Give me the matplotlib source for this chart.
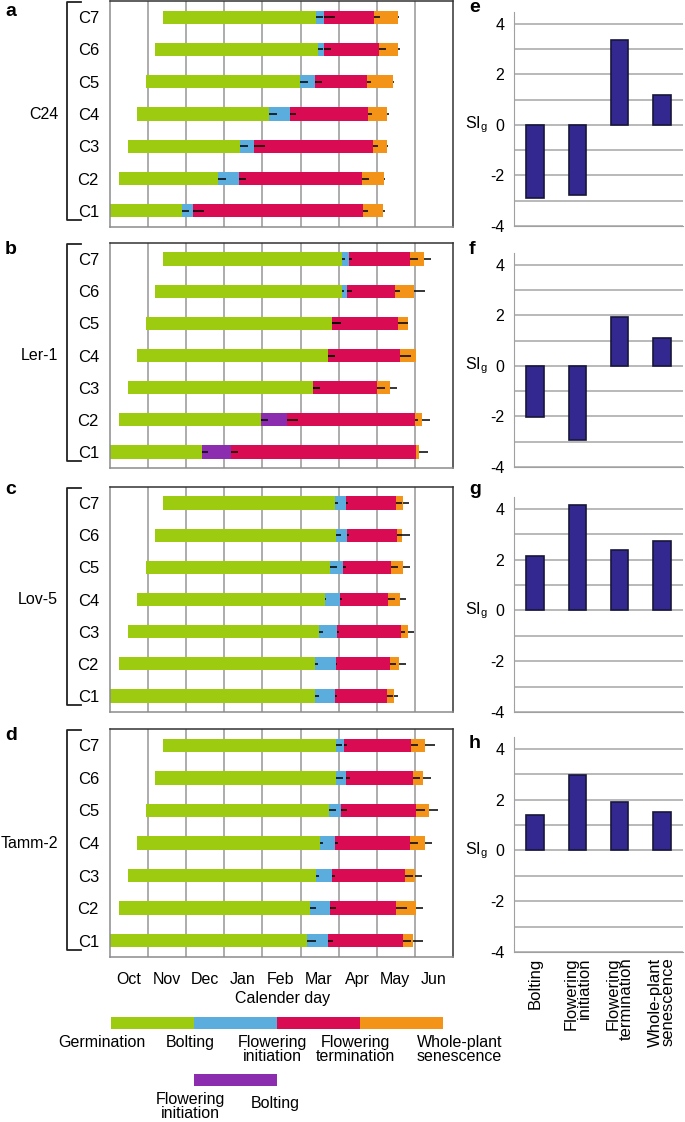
import numpy as np
import matplotlib.pyplot as plt
from matplotlib import transforms

plt.rcParams['font.family'] = ['Liberation Sans', 'DejaVu Sans']
plt.rcParams['mathtext.default'] = 'regular'
plt.rcParams['axes.unicode_minus'] = False

W, H = 685, 1122

months = ['Oct', 'Nov', 'Dec', 'Jan', 'Feb', 'Mar', 'Apr', 'May', 'Jun']
cohorts = ['C1', 'C2', 'C3', 'C4', 'C5', 'C6', 'C7']
genotypes = ['C24', 'Ler-1', 'Lov-5', 'Tamm-2']
stages = ['Bolting', 'Flowering\ninitiation', 'Flowering\ntermination', 'Whole-plant\nsenescence']

# months after 1 Oct, cohorts C1..C7
germ = [0.0, 0.24, 0.47, 0.70, 0.94, 1.17, 1.40]

c24_bolt = [1.89, 2.84, 3.41, 4.18, 4.98, 5.45, 5.40]
c24_init = [2.17, 3.38, 3.78, 4.72, 5.38, 5.61, 5.61]
c24_term = [6.63, 6.62, 6.89, 6.77, 6.74, 7.05, 6.94]
c24_sen = [7.17, 7.19, 7.26, 7.28, 7.42, 7.56, 7.55]
# error per cohort: bolting, flowering initiation, termination, senescence
c24_se = [[0.17, 0.30, 0.15, 0.04], [0.20, 0.20, 0.18, 0.03], [0.22, 0.29, 0.13, 0.04],
          [0.21, 0.17, 0.11, 0.03], [0.22, 0.19, 0.10, 0.04], [0.15, 0.20, 0.18, 0.04],
          [0.20, 0.29, 0.14, 0.04]]

ler_bolt = [3.18, 4.65, 5.32, 5.71, 5.82, 6.08, 6.08]
ler_init = [2.41, 3.97, 5.32, 5.71, 5.82, 6.22, 6.26]
ler_term = [8.02, 8.00, 7.00, 7.62, 7.56, 7.47, 7.88]
ler_sen = [8.11, 8.19, 7.36, 8.02, 7.81, 7.97, 8.23]
ler_se = [[0.18, 0.17, 0.00, 0.24], [0.29, 0.18, 0.08, 0.20], [0.20, 0.20, 0.21, 0.16],
          [0.19, 0.19, 0.29, 0.02], [0.23, 0.23, 0.25, 0.02], [0.06, 0.13, 0.13, 0.29],
          [0.09, 0.10, 0.20, 0.20]]

lov_bolt = [5.39, 5.39, 5.49, 5.63, 5.78, 5.94, 5.90]
lov_init = [5.91, 5.93, 5.96, 6.03, 6.12, 6.22, 6.18]
lov_term = [7.26, 7.34, 7.64, 7.30, 7.38, 7.52, 7.50]
lov_sen = [7.44, 7.57, 7.81, 7.60, 7.69, 7.67, 7.69]
lov_se = [[0.10, 0.05, 0.17, 0.12], [0.08, 0.03, 0.17, 0.19], [0.09, 0.05, 0.10, 0.17],
          [0.05, 0.07, 0.17, 0.17], [0.17, 0.07, 0.18, 0.19], [0.13, 0.06, 0.15, 0.19],
          [0.09, 0.07, 0.15, 0.16]]

tamm_bolt = [5.17, 5.24, 5.40, 5.51, 5.74, 5.94, 5.93]
tamm_init = [5.72, 5.77, 5.83, 5.90, 6.05, 6.18, 6.14]
tamm_term = [7.68, 7.50, 7.74, 7.88, 8.04, 7.95, 7.90]
tamm_sen = [7.94, 8.02, 7.99, 8.27, 8.37, 8.20, 8.27]
tamm_se = [[0.24, 0.12, 0.21, 0.26], [0.17, 0.16, 0.28, 0.19], [0.09, 0.08, 0.20, 0.19],
           [0.09, 0.09, 0.20, 0.17], [0.20, 0.16, 0.22, 0.24], [0.17, 0.11, 0.19, 0.21],
           [0.17, 0.09, 0.18, 0.27]]

# SIg per stage
si_c24 = [-2.89, -2.78, 3.37, 1.18]
si_ler = [-2.03, -2.95, 1.93, 1.10]
si_lov = [2.16, 4.16, 2.39, 2.73]
si_tamm = [1.38, 2.99, 1.91, 1.53]

GREEN = '#9dcb0f'
BLUE = '#5badde'
RED = '#d90b52'
ORANGE = '#f39318'
PURPLE = '#8c2db0'
NAVY = '#33288f'
GRID = '#a6a6a6'


def box(x0, y0, x1, y1):
    # pixel box (top-left origin) -> figure rect
    return [x0 / W, 1 - y1 / H, (x1 - x0) / W, (y1 - y0) / H]


fig = plt.figure(figsize=(W / 100, H / 100), dpi=100)


def timeline(ax, name, bolt, init, term, sen, se, letter, ypx):
    rows = np.arange(len(cohorts))
    g = np.array(germ)
    bolt, init, term, sen = map(np.array, (bolt, init, term, sen))
    first = np.minimum(bolt, init)
    second = np.maximum(bolt, init)
    mid_col = [BLUE if b <= i else PURPLE for b, i in zip(bolt, init)]
    h = 0.41
    ax.barh(rows, first - g, left=g, height=h, color=GREEN, zorder=2)
    ax.barh(rows, second - first, left=first, height=h, color=mid_col, zorder=2)
    ax.barh(rows, term - second, left=second, height=h, color=RED, zorder=2)
    ax.barh(rows, sen - term, left=term, height=h, color=ORANGE, zorder=2)
    se = np.array(se)
    for k, x in enumerate([bolt, init, term, sen]):
        ax.errorbar(x, rows, xerr=[np.zeros(len(rows)), se[:, k]], fmt='none',
                    ecolor='black', elinewidth=1.1, capsize=0, zorder=3)
    ax.set_xlim(0, 9)
    ax.set_ylim(-0.5, 6.5)
    ax.set_xticks(range(1, 9))
    ax.xaxis.grid(True, color=GRID, lw=1.3)
    ax.set_axisbelow(True)
    ax.tick_params(axis='x', length=0, labelbottom=False)
    ax.set_yticks(rows, cohorts, fontsize=12)
    ax.tick_params(axis='y', length=0, pad=8)
    for s in ['top', 'right']:
        ax.spines[s].set_color('#333333')
    for s in ['left', 'bottom']:
        ax.spines[s].set_color('#8c8c8c')
    for s in ax.spines.values():
        s.set_linewidth(1.1)

    # bracket and genotype label
    tr = transforms.blended_transform_factory(fig.transFigure, ax.transData)
    x0, x1 = 67 / W, 81 / W
    ax.plot([x1, x0, x0, x1], [6.46, 6.46, -0.28, -0.28], color='#222222', lw=1.3,
            transform=tr, clip_on=False)
    ax.text(58 / W, 3, name, transform=tr, ha='right', va='center', fontsize=11.5)
    fig.text(5 / W, 1 - ypx / H, letter, fontsize=14, fontweight='bold', ha='left', va='center')


def si_panel(ax, vals, letter, ypx, labels):
    x = np.arange(len(stages))
    ax.bar(x, vals, width=0.42, color=NAVY, edgecolor='#16163a', lw=1.2, zorder=3)
    ax.set_xlim(-0.5, 3.5)
    ax.set_ylim(-4, 4.47)
    ax.set_yticks([-4, -2, 0, 2, 4])
    ax.set_yticks(range(-3, 5), minor=True)
    ax.yaxis.grid(True, which='both', color=GRID, lw=1.1)
    ax.set_axisbelow(True)
    ax.tick_params(axis='y', which='both', length=0, pad=7, labelsize=11.5)
    ax.spines['top'].set_visible(False)
    ax.spines['right'].set_visible(False)
    ax.spines['left'].set_color('#a0a0a0')
    ax.spines['bottom'].set_color('#a0a0a0')
    if labels:
        ax.set_xticks(x, stages, rotation=90, fontsize=12, linespacing=0.85,
                      multialignment='right')
        ax.tick_params(axis='x', length=0, pad=4)
    else:
        ax.set_xticks([])
    tr = transforms.blended_transform_factory(fig.transFigure, ax.transData)
    ax.text(488 / W, 0, 'SI$_{g}$', transform=tr, ha='right', va='center', fontsize=11.5)
    fig.text(469 / W, 1 - ypx / H, letter, fontsize=14, fontweight='bold', ha='left', va='center')


left_boxes = [(110, 1, 453, 227), (110, 243, 453, 468), (110, 487, 453, 712), (110, 729, 453, 957)]
right_boxes = [(514, 12, 683, 226), (514, 253, 683, 467), (514, 497, 683, 712), (514, 737, 683, 952)]

tl_data = [
    (c24_bolt, c24_init, c24_term, c24_sen, c24_se),
    (ler_bolt, ler_init, ler_term, ler_sen, ler_se),
    (lov_bolt, lov_init, lov_term, lov_sen, lov_se),
    (tamm_bolt, tamm_init, tamm_term, tamm_sen, tamm_se),
]
si_data = [si_c24, si_ler, si_lov, si_tamm]
left_letters = [('a', 12), ('b', 250), ('c', 490), ('d', 735)]
right_letters = [('e', 8), ('f', 249), ('g', 490), ('h', 743)]

for i in range(4):
    ax = fig.add_axes(box(*left_boxes[i]))
    timeline(ax, genotypes[i], *tl_data[i], left_letters[i][0], left_letters[i][1])
    if i == 3:
        ax.set_xticks(np.arange(len(months)) + 0.48, months, minor=True)
        ax.tick_params(axis='x', which='minor', length=0, pad=11, labelsize=11.5)
    axr = fig.add_axes(box(*right_boxes[i]))
    si_panel(axr, si_data[i], right_letters[i][0], right_letters[i][1], i == 3)

fig.text(283 / W, 1 - 999 / H, 'Calender day', ha='center', va='center', fontsize=11.5)

# colour key
leg = fig.add_axes(box(111, 1005, 443, 1122))
leg.set_xlim(0, 4)
leg.set_ylim(1122, 1005)
leg.axis('off')
leg.barh([1023] * 4, [1] * 4, left=range(4), height=12, color=[GREEN, BLUE, RED, ORANGE])
leg.barh([1080], [1], left=[1], height=12, color=PURPLE)
key_labels = ['Germination', 'Bolting', 'Flowering\ninitiation', 'Flowering\ntermination',
              'Whole-plant\nsenescence']
key_x = [-0.11, 0.95, 1.95, 2.95, 4.2]
for lab, xx in zip(key_labels, key_x):
    leg.text(xx, 1035, lab, ha='center', va='top', fontsize=11.5, linespacing=0.92)
leg.text(0.96, 1092, 'Flowering\ninitiation', ha='center', va='top', fontsize=11.5, linespacing=0.92)
leg.text(1.98, 1104, 'Bolting', ha='center', va='center', fontsize=11.5)

fig.savefig('out.png', dpi=100)
